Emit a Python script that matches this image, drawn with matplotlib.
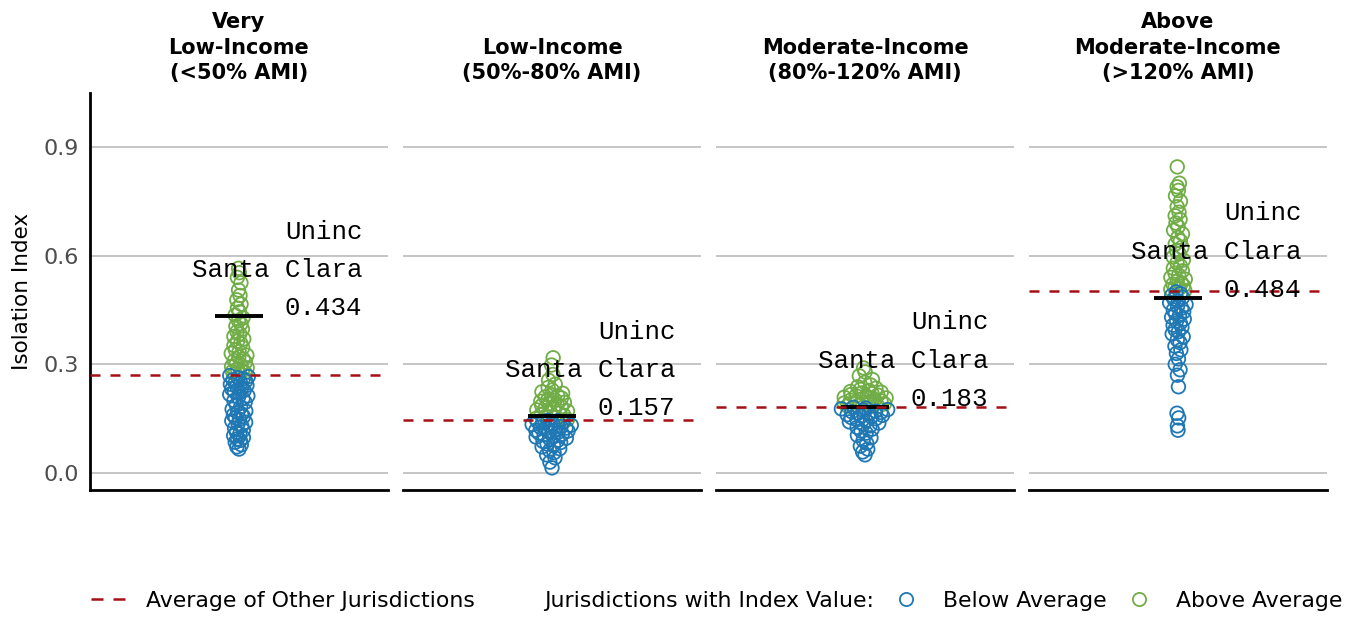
import matplotlib
matplotlib.use("Agg")
import matplotlib.pyplot as plt
from matplotlib.lines import Line2D
import numpy as np

# facet titles
titles = ["Very\nLow-Income\n(<50% AMI)", "Low-Income\n(50%-80% AMI)",
          "Moderate-Income\n(80%-120% AMI)", "Above\nModerate-Income\n(>120% AMI)"]

# isolation index of the other jurisdictions
vals_vli = [0.066, 0.072, 0.078, 0.085, 0.09, 0.094, 0.098, 0.103, 0.108, 0.112, 0.118, 0.124,
            0.13, 0.136, 0.14, 0.144, 0.148, 0.152, 0.156, 0.16, 0.163, 0.167, 0.171, 0.176,
            0.182, 0.188, 0.195, 0.2, 0.205, 0.209, 0.213, 0.217, 0.221, 0.225, 0.228, 0.232,
            0.236, 0.239, 0.242, 0.245, 0.248, 0.251, 0.254, 0.257, 0.26, 0.263, 0.266, 0.269,
            0.272, 0.274, 0.277, 0.28, 0.283, 0.287, 0.29, 0.294, 0.298, 0.302, 0.306, 0.31,
            0.315, 0.32, 0.325, 0.33, 0.335, 0.34, 0.346, 0.352, 0.358, 0.364, 0.37, 0.377,
            0.384, 0.39, 0.397, 0.405, 0.412, 0.42, 0.428, 0.436, 0.445, 0.455, 0.466, 0.478,
            0.49, 0.505, 0.525, 0.54, 0.553, 0.565]
vals_li = [0.014, 0.03, 0.042, 0.05, 0.056, 0.062, 0.067, 0.072, 0.076, 0.08, 0.084, 0.087,
           0.09, 0.093, 0.096, 0.099, 0.102, 0.105, 0.107, 0.11, 0.112, 0.114, 0.116, 0.118,
           0.12, 0.122, 0.124, 0.126, 0.128, 0.13, 0.132, 0.134, 0.136, 0.138, 0.14, 0.142,
           0.144, 0.145, 0.147, 0.15, 0.153, 0.156, 0.159, 0.162, 0.165, 0.168, 0.171, 0.174,
           0.177, 0.18, 0.183, 0.186, 0.189, 0.192, 0.195, 0.198, 0.201, 0.204, 0.207, 0.21,
           0.213, 0.216, 0.22, 0.224, 0.229, 0.236, 0.245, 0.256, 0.272, 0.298, 0.318]
vals_mi = [0.05, 0.058, 0.066, 0.074, 0.082, 0.09, 0.097, 0.104, 0.11, 0.116, 0.121, 0.126,
           0.13, 0.134, 0.138, 0.141, 0.144, 0.147, 0.15, 0.153, 0.155, 0.157, 0.159, 0.161,
           0.163, 0.165, 0.167, 0.169, 0.171, 0.173, 0.175, 0.177, 0.179, 0.181, 0.183, 0.185,
           0.187, 0.189, 0.191, 0.193, 0.195, 0.197, 0.199, 0.201, 0.203, 0.205, 0.207, 0.209,
           0.211, 0.213, 0.215, 0.217, 0.219, 0.221, 0.223, 0.225, 0.228, 0.231, 0.234, 0.238,
           0.243, 0.25, 0.258, 0.268, 0.279, 0.29]
vals_ami = [0.118, 0.13, 0.152, 0.165, 0.238, 0.27, 0.285, 0.3, 0.315, 0.33, 0.34, 0.35,
            0.36, 0.368, 0.376, 0.384, 0.39, 0.396, 0.402, 0.408, 0.414, 0.42, 0.425, 0.43,
            0.435, 0.44, 0.445, 0.45, 0.455, 0.46, 0.465, 0.47, 0.475, 0.48, 0.485, 0.49,
            0.495, 0.5, 0.504, 0.507, 0.51, 0.513, 0.517, 0.521, 0.525, 0.53, 0.535, 0.54,
            0.546, 0.552, 0.558, 0.565, 0.572, 0.58, 0.588, 0.596, 0.605, 0.614, 0.623, 0.632,
            0.641, 0.65, 0.66, 0.67, 0.68, 0.69, 0.7, 0.71, 0.72, 0.735, 0.75, 0.765,
            0.78, 0.79, 0.8, 0.845]
panel_vals = [vals_vli, vals_li, vals_mi, vals_ami]

# average of the other jurisdictions and the Uninc Santa Clara value
averages = [0.270, 0.146, 0.182, 0.502]
uninc = [0.434, 0.157, 0.183, 0.484]
label_name = "Uninc\nSanta Clara"

blue = "#1F78B4"
green = "#70AD47"
red = "#A50F15"

plt.rcParams["font.family"] = "DejaVu Sans"


def vdc(n, base=2):
    v, denom = 0.0, 1.0
    while n:
        denom *= base
        n, r = divmod(n, base)
        v += r / denom
    return v


def density_at(v):
    v = np.asarray(v)
    n = len(v)
    iqr = np.subtract(*np.percentile(v, [75, 25]))
    bw = 0.9 * min(v.std(ddof=1), iqr / 1.34) * n ** -0.2
    d = np.exp(-0.5 * ((v[:, None] - v[None, :]) / bw) ** 2).sum(1)
    return d / (n * bw * np.sqrt(2 * np.pi))


# quasirandom offsets, width scaled by density shared across panels
dens = [density_at(v) for v in panel_vals]
dmax = max(d.max() for d in dens)
width = 0.1

fig = plt.figure(figsize=(13.55, 6.17), dpi=100)
lefts = [90, 403, 716, 1029]
for i, vals in enumerate(panel_vals):
    ax = fig.add_axes([lefts[i] / 1355, 127 / 617, 298 / 1355, 397 / 617])
    v = np.asarray(vals)
    order = np.argsort(v)
    offs = np.zeros(len(v))
    for k, idx in enumerate(order):
        offs[idx] = (vdc(k + 1) - 0.5) * 2 * width * dens[i][idx] / dmax
    above = v > averages[i]
    ax.scatter(offs[above], v[above], s=95, facecolors="none", edgecolors=green,
               linewidths=1.3, zorder=2)
    ax.scatter(offs[~above], v[~above], s=95, facecolors="none", edgecolors=blue,
               linewidths=1.3, zorder=2)
    ax.plot([-0.095, 0.095], [uninc[i], uninc[i]], color="black", lw=2.8,
            solid_capstyle="butt", zorder=3)
    ax.axhline(averages[i], color=red, lw=1.8, ls=(0, (4, 4)), zorder=4)
    ax.text(0.497, uninc[i] + 0.127, label_name + "\n%.3f" % uninc[i],
            ha="right", va="center", multialignment="right",
            family="Liberation Mono", fontsize=18.5, linespacing=1.75, zorder=5)

    ax.set_xlim(-0.6, 0.6)
    ax.set_ylim(-0.047, 1.049)
    ax.set_yticks([0.0, 0.3, 0.6, 0.9])
    ax.grid(axis="y", color="#b5b5b5", lw=1.1)
    ax.set_axisbelow(True)
    ax.set_xticks([])
    for s in ["top", "right"]:
        ax.spines[s].set_visible(False)
    ax.spines["bottom"].set_linewidth(2)
    ax.spines["left"].set_linewidth(2)
    ax.tick_params(axis="y", length=0, pad=8, labelsize=16, labelcolor="#4d4d4d")
    if i == 0:
        ax.set_ylabel("Isolation Index", fontsize=15.5, labelpad=8)
    else:
        ax.spines["left"].set_visible(False)
        ax.set_yticklabels([])
    ax.set_title(titles[i], fontsize=15, fontweight="bold", linespacing=1.35, pad=10)

handles = [Line2D([], [], color=red, ls=(0, (4.8, 4)), lw=1.8),
           Line2D([], [], ls="none"),
           Line2D([], [], ls="none", marker="o", markerfacecolor="none",
                  markeredgecolor=blue, markersize=9.5, markeredgewidth=1.3),
           Line2D([], [], ls="none", marker="o", markerfacecolor="none",
                  markeredgecolor=green, markersize=9.5, markeredgewidth=1.3)]
labels = ["Average of Other Jurisdictions", "Jurisdictions with Index Value:",
          "Below Average", "Above Average"]
fig.legend(handles, labels, loc="center", bbox_to_anchor=(0.529, 0.026), ncol=4,
           frameon=False, fontsize=15.8, handlelength=1.6, handletextpad=0.9,
           columnspacing=0.65)

fig.savefig("out.png", dpi=100)
